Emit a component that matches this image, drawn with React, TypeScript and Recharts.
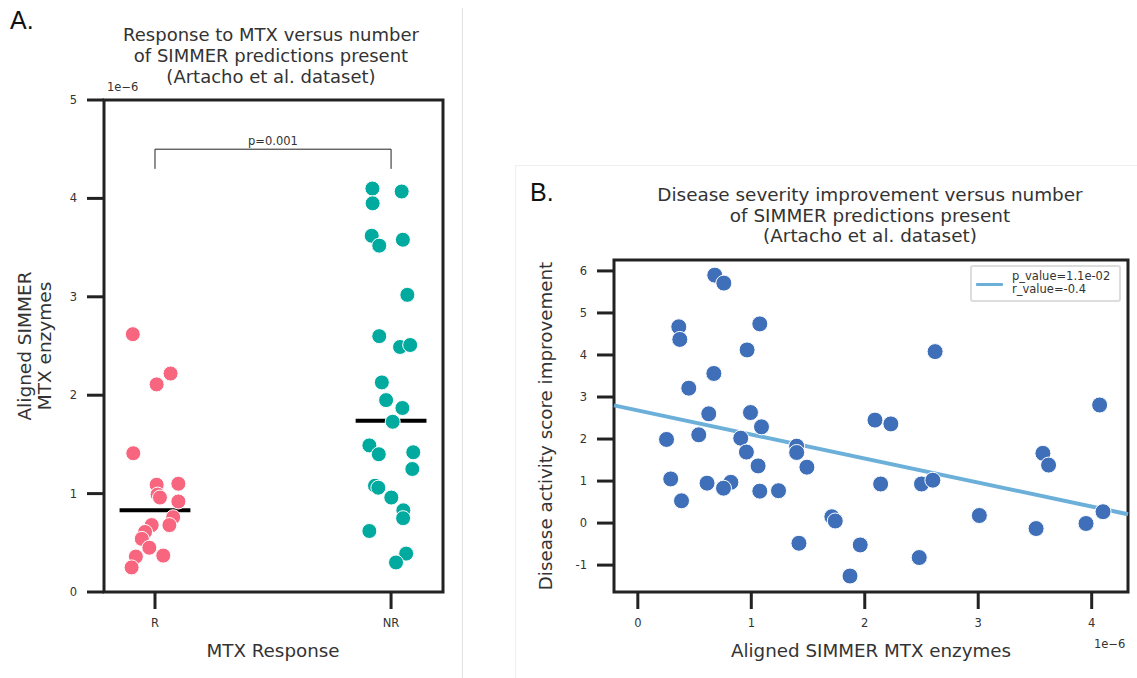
import React from 'react';
import {
  ScatterChart,
  Scatter,
  XAxis,
  YAxis,
  ReferenceArea,
  ReferenceLine,
} from 'recharts';

// Panel A: MTX response groups (values in units of 1e-6)
const rJitter = [-0.094, 0.066, 0.007, -0.092, 0.007, 0.099, 0.011, 0.021, 0.099, 0.077, 0.061, -0.014, -0.042, -0.056, -0.024, 0.035, -0.081, -0.099];
const rValues = [2.62, 2.22, 2.11, 1.41, 1.09, 1.1, 0.99, 0.96, 0.92, 0.76, 0.68, 0.68, 0.61, 0.54, 0.45, 0.37, 0.36, 0.25];
const nrJitter = [-0.079, 0.045, -0.078, -0.082, -0.05, 0.05, 0.069, -0.05, 0.038, 0.081, -0.039, -0.021, 0.048, 0.007, -0.092, -0.052, 0.094, 0.09, -0.068, -0.054, 0.001, 0.052, 0.051, -0.092, 0.064, 0.021];
const nrValues = [4.1, 4.07, 3.95, 3.62, 3.52, 3.58, 3.02, 2.6, 2.49, 2.51, 2.13, 1.95, 1.87, 1.73, 1.49, 1.4, 1.42, 1.25, 1.08, 1.06, 0.96, 0.83, 0.75, 0.62, 0.39, 0.3];
const groupLabels = ['R', 'NR'];
const groupMedians = [0.83, 1.74];
const bracketLow = 4.3;
const bracketHigh = 4.5;

// Panel B: enzymes (1e-6) vs disease activity score improvement
const enzymes = [0.678, 0.758, 0.361, 0.37, 1.075, 0.963, 2.62, 0.67, 0.449, 0.625, 0.993, 1.09, 2.09, 2.23, 4.07, 0.253, 0.537, 0.907, 0.957, 1.06, 1.4, 1.4, 1.49, 3.57, 3.62, 0.29, 0.385, 0.61, 0.82, 0.755, 1.075, 1.24, 2.14, 2.5, 2.6, 1.71, 1.74, 3.01, 3.51, 3.95, 4.1, 1.42, 1.96, 2.48, 1.87];
const improvement = [5.9, 5.71, 4.67, 4.37, 4.74, 4.12, 4.08, 3.56, 3.21, 2.6, 2.63, 2.29, 2.45, 2.36, 2.81, 1.99, 2.1, 2.02, 1.69, 1.36, 1.83, 1.68, 1.33, 1.66, 1.38, 1.05, 0.53, 0.95, 0.97, 0.83, 0.76, 0.77, 0.93, 0.93, 1.02, 0.15, 0.05, 0.18, -0.13, -0.01, 0.27, -0.48, -0.52, -0.82, -1.26];
const fitX = [-0.21, 4.32];
const fitY = [2.8, 0.21];

const rData = rValues.map((v, i) => ({ x: 0 + rJitter[i], y: v }));
const nrData = nrValues.map((v, i) => ({ x: 1 + nrJitter[i], y: v }));
const bData = enzymes.map((x, i) => ({ x, y: improvement[i] }));
const fitData = fitX.map((x, i) => ({ x, y: fitY[i] }));

const FONT = '"DejaVu Sans", sans-serif';
const INK = '#222';
const TXT = '#333';

const dot = (fill: string, r: number) => (p: any) => (
  <circle cx={p.cx} cy={p.cy} r={r} fill={fill} stroke="#fff" strokeWidth={1} />
);

const tickStyle = { fontSize: 11.5, fill: TXT, fontFamily: FONT };
const tickLine = { stroke: INK, strokeWidth: 3 };

const abs = (left: number, top: number, extra: React.CSSProperties = {}): React.CSSProperties => ({
  position: 'absolute',
  left,
  top,
  fontFamily: FONT,
  color: TXT,
  whiteSpace: 'nowrap',
  ...extra,
});

export default function App() {
  return (
    <div style={{ position: 'absolute', left: 0, top: 0, width: 1137, height: 678, background: '#fff', overflow: 'hidden' }}>
      {/* separators */}
      <div style={{ position: 'absolute', left: 462, top: 8, width: 1, height: 670, background: '#e2e2e2' }} />
      <div style={{ position: 'absolute', left: 515, top: 165, width: 622, height: 1, background: '#efefef' }} />
      <div style={{ position: 'absolute', left: 515, top: 165, width: 1, height: 513, background: '#efefef' }} />

      {/* Panel A */}
      <div style={{ position: 'absolute', left: 0, top: 0 }}>
        <ScatterChart width={470} height={678} margin={{ top: 100, right: 27, bottom: 46, left: 54 }}>
          <XAxis
            type="number"
            dataKey="x"
            domain={[-0.216, 1.22]}
            ticks={[0, 1]}
            tickFormatter={(v: number) => groupLabels[v] ?? ''}
            axisLine={false}
            tickLine={tickLine}
            tickSize={17}
            tickMargin={10}
            tick={tickStyle}
            height={40}
          />
          <YAxis
            type="number"
            dataKey="y"
            domain={[0, 5]}
            ticks={[0, 1, 2, 3, 4, 5]}
            axisLine={false}
            tickLine={tickLine}
            tickSize={17}
            tickMargin={10}
            tick={tickStyle}
            width={50}
          />
          <ReferenceArea x1={-0.216} x2={1.22} y1={0} y2={5} fill="none" stroke={INK} strokeWidth={3} ifOverflow="visible" />
          <ReferenceLine segment={[{ x: 0, y: bracketLow }, { x: 0, y: bracketHigh }]} stroke={INK} strokeWidth={1} />
          <ReferenceLine segment={[{ x: 0, y: bracketHigh }, { x: 1, y: bracketHigh }]} stroke={INK} strokeWidth={1} />
          <ReferenceLine segment={[{ x: 1, y: bracketLow }, { x: 1, y: bracketHigh }]} stroke={INK} strokeWidth={1} />
          <Scatter data={rData} fill="#f8657f" shape={dot('#f8657f', 7.5)} isAnimationActive={false} />
          <Scatter data={nrData} fill="#00aa9f" shape={dot('#00aa9f', 7.5)} isAnimationActive={false} />
          {groupMedians.map((m, i) => (
            <ReferenceLine key={i} segment={[{ x: i - 0.15, y: m }, { x: i + 0.15, y: m }]} stroke="#000" strokeWidth={4} />
          ))}
        </ScatterChart>
      </div>
      <div style={abs(10, 6, { fontFamily: '"Liberation Sans", Arial, sans-serif', fontSize: 25, color: '#111' })}>A.</div>
      <div style={abs(271, 24, { transform: 'translateX(-50%)', textAlign: 'center', fontSize: 18, lineHeight: '21px' })}>
        Response to MTX versus number
        <br />
        of SIMMER predictions present
        <br />
        (Artacho et al. dataset)
      </div>
      <div style={abs(107, 80, { fontSize: 11.5 })}>1e−6</div>
      <div style={abs(273, 134, { transform: 'translateX(-50%)', fontSize: 11.5 })}>p=0.001</div>
      <div style={abs(35, 346, { transform: 'translate(-50%, -50%) rotate(-90deg)', textAlign: 'center', fontSize: 18.5, lineHeight: '20px' })}>
        Aligned SIMMER
        <br />
        MTX enzymes
      </div>
      <div style={abs(273, 640, { transform: 'translateX(-50%)', fontSize: 18.3 })}>MTX Response</div>

      {/* Panel B */}
      <div style={{ position: 'absolute', left: 470, top: 0 }}>
        <ScatterChart width={667} height={678} margin={{ top: 260, right: 9, bottom: 46, left: 94 }}>
          <XAxis
            type="number"
            dataKey="x"
            domain={[-0.21, 4.32]}
            ticks={[0, 1, 2, 3, 4]}
            axisLine={false}
            tickLine={tickLine}
            tickSize={17}
            tickMargin={10}
            tick={tickStyle}
            height={40}
          />
          <YAxis
            type="number"
            dataKey="y"
            domain={[-1.64, 6.26]}
            ticks={[-1, 0, 1, 2, 3, 4, 5, 6]}
            axisLine={false}
            tickLine={tickLine}
            tickSize={17}
            tickMargin={10}
            tick={tickStyle}
            width={50}
          />
          <Scatter
            data={fitData}
            line={{ stroke: '#6cb0da', strokeWidth: 4 }}
            shape={() => <g />}
            isAnimationActive={false}
          />
          <Scatter data={bData} fill="#3e6fb8" shape={dot('#3e6fb8', 8)} isAnimationActive={false} />
          <ReferenceArea x1={-0.21} x2={4.32} y1={-1.64} y2={6.26} fill="none" stroke={INK} strokeWidth={3} ifOverflow="visible" />
        </ScatterChart>
      </div>
      <div style={abs(530, 178, { fontFamily: '"Liberation Sans", Arial, sans-serif', fontSize: 25, color: '#111' })}>B.</div>
      <div style={abs(870, 185, { transform: 'translateX(-50%)', textAlign: 'center', fontSize: 18.4, lineHeight: '20.5px' })}>
        Disease severity improvement versus number
        <br />
        of SIMMER predictions present
        <br />
        (Artacho et al. dataset)
      </div>
      <div
        style={abs(970, 265, {
          width: 147,
          height: 33,
          border: '2px solid #ddd',
          borderRadius: 3,
          background: '#fff',
          fontSize: 11.5,
          lineHeight: '12.5px',
        })}
      >
        <div style={{ position: 'absolute', left: 4, top: 16, width: 27, height: 3, background: '#6cb0da', borderRadius: 1 }} />
        <div style={{ position: 'absolute', left: 40, top: 3 }}>
          p_value=1.1e-02
          <br />
          r_value=-0.4
        </div>
      </div>
      <div style={abs(545, 426, { transform: 'translate(-50%, -50%) rotate(-90deg)', fontSize: 18.3 })}>
        Disease activity score improvement
      </div>
      <div style={abs(871, 640, { transform: 'translateX(-50%)', fontSize: 18.3 })}>Aligned SIMMER MTX enzymes</div>
      <div style={abs(1094, 637, { fontSize: 11.5 })}>1e−6</div>
    </div>
  );
}
